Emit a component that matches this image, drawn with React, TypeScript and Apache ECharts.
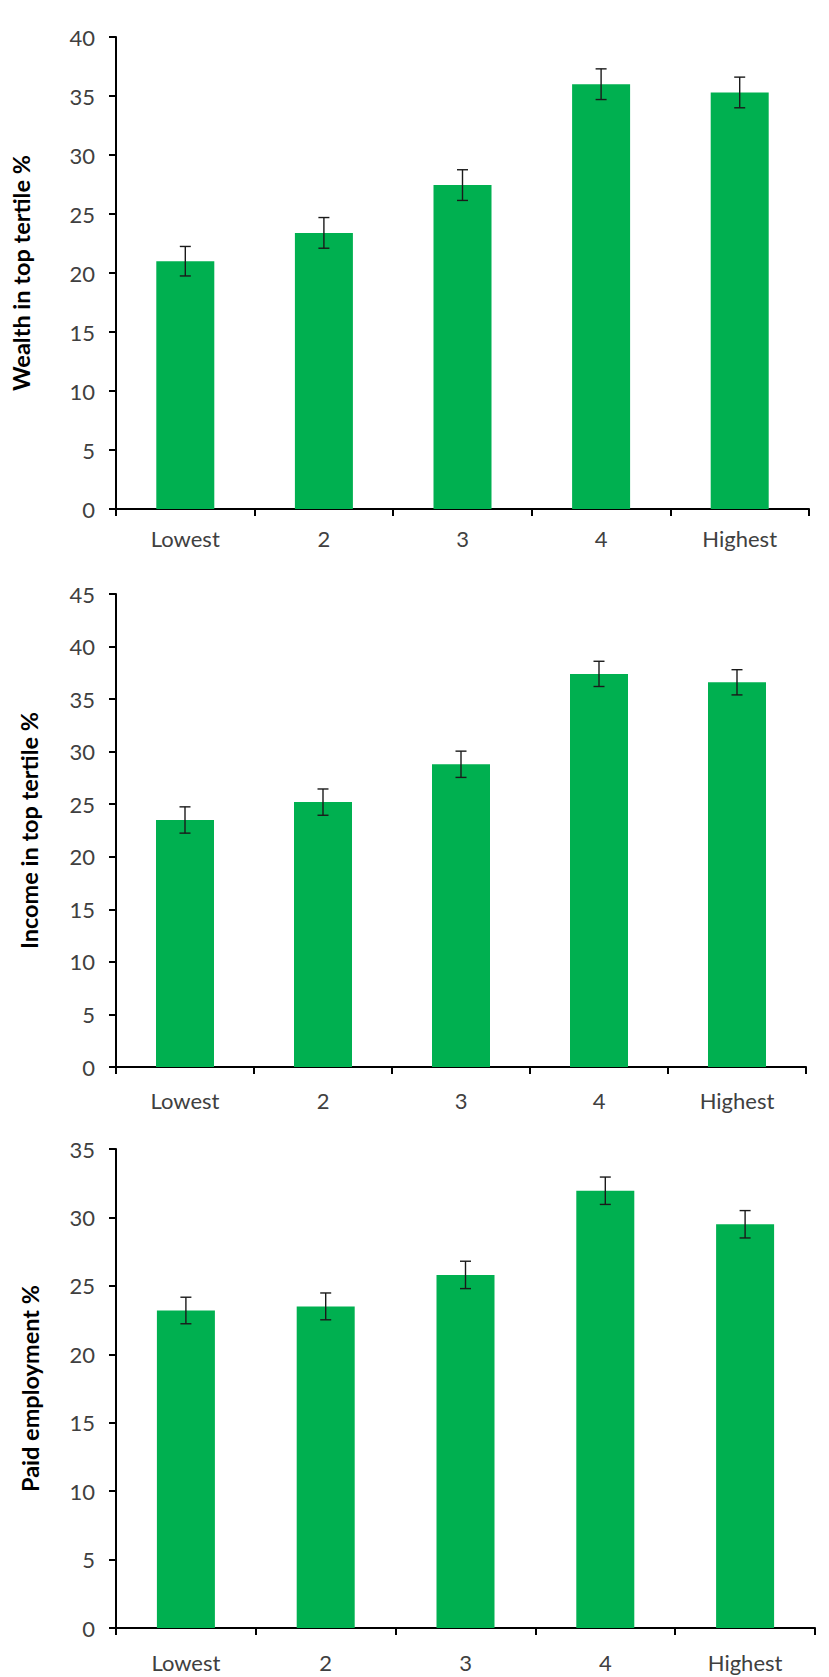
import React, { useEffect, useRef } from "react";
import * as echarts from "echarts";

const categories = ["Lowest", "2", "3", "4", "Highest"];

const wealthValues = [21.0, 23.4, 27.45, 36.0, 35.3];
const wealthErrors = [1.25, 1.3, 1.3, 1.3, 1.3];

const incomeValues = [23.5, 25.2, 28.8, 37.4, 36.6];
const incomeErrors = [1.25, 1.25, 1.25, 1.2, 1.2];

const employmentValues = [23.2, 23.5, 25.8, 31.95, 29.5];
const employmentErrors = [0.97, 0.98, 1.0, 1.0, 1.0];

const yMax = [40, 45, 35];
const yNames = ["Wealth in top tertile %", "Income in top tertile %", "Paid employment %"];

const FONT = "Lato, 'Open Sans', sans-serif";
const GREEN = "#00B050";
const TEXT = "#404040";

const grids = [
  { left: 116, top: 37, width: 693, height: 472 },
  { left: 116, top: 594, width: 690, height: 473 },
  { left: 116, top: 1149, width: 699, height: 479 },
];
const nameGaps = [83, 75, 74];
const xLabelMargins = [18, 22, 23];

function errorRender(params: any, api: any) {
  const x = api.value(0);
  const v = api.value(1);
  const e = api.value(2);
  const hi = api.coord([x, v + e]);
  const lo = api.coord([x, v - e]);
  const hw = 5.5;
  const style = { stroke: "#1a1a1a", lineWidth: 1.4 };
  return {
    type: "group",
    children: [
      { type: "line", shape: { x1: hi[0], y1: hi[1], x2: lo[0], y2: lo[1] }, style },
      { type: "line", shape: { x1: hi[0] - hw, y1: hi[1], x2: hi[0] + hw, y2: hi[1] }, style },
      { type: "line", shape: { x1: lo[0] - hw, y1: lo[1], x2: lo[0] + hw, y2: lo[1] }, style },
    ],
  };
}

export default function App() {
  const ref = useRef<HTMLDivElement>(null);
  useEffect(() => {
    if (!ref.current) return;
    const chart = echarts.init(ref.current, null, { renderer: "svg" });
    const values = [wealthValues, incomeValues, employmentValues];
    const errors = [wealthErrors, incomeErrors, employmentErrors];

    const axisLine = { show: true, lineStyle: { color: "#000", width: 2 } };
    const axisTick = { show: true, length: 7, inside: false, lineStyle: { color: "#000", width: 2 } };

    const xAxis = grids.map((_, i) => ({
      type: "category",
      gridIndex: i,
      data: categories,
      boundaryGap: true,
      axisLine,
      axisTick: { ...axisTick, alignWithLabel: false, interval: 0 },
      axisLabel: { color: TEXT, fontFamily: FONT, fontSize: 22, margin: xLabelMargins[i], interval: 0 },
      splitLine: { show: false },
    }));

    const yAxis = grids.map((_, i) => ({
      type: "value",
      gridIndex: i,
      min: 0,
      max: yMax[i],
      interval: 5,
      name: yNames[i],
      nameLocation: "middle",
      nameRotate: 90,
      nameGap: nameGaps[i],
      nameTextStyle: { color: "#000", fontFamily: FONT, fontSize: 23.5, fontWeight: "bold" },
      axisLine,
      axisTick,
      axisLabel: { color: TEXT, fontFamily: FONT, fontSize: 22, margin: 21 },
      splitLine: { show: false },
    }));

    const series: any[] = [];
    grids.forEach((_, i) => {
      series.push({
        type: "bar",
        xAxisIndex: i,
        yAxisIndex: i,
        data: values[i],
        barWidth: 58,
        itemStyle: { color: GREEN },
        z: 2,
      });
      series.push({
        type: "custom",
        xAxisIndex: i,
        yAxisIndex: i,
        data: categories.map((_, j) => [j, values[i][j], errors[i][j]]),
        encode: { x: 0, y: 1 },
        renderItem: errorRender,
        z: 5,
      });
    });

    chart.setOption({
      animation: false,
      backgroundColor: "#fff",
      grid: grids.map((g) => ({ ...g })),
      xAxis,
      yAxis,
      series,
    });
    return () => chart.dispose();
  }, []);
  return (
    <div
      ref={ref}
      style={{ position: "absolute", left: 0, top: 0, width: 829, height: 1677 }}
    />
  );
}
